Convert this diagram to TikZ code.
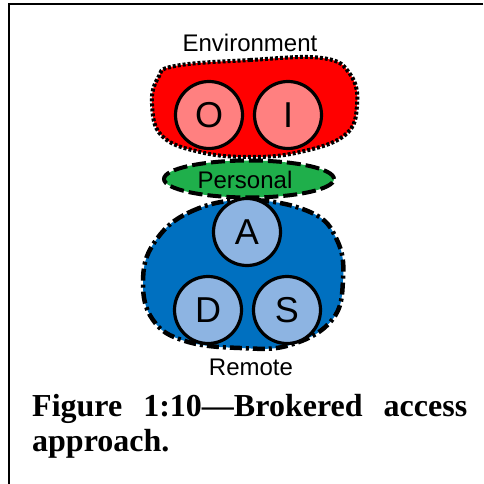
\documentclass[tikz,border=0pt]{standalone}
\usepackage{fontspec}
\setmainfont{Liberation Sans}
\newfontfamily\capfont[Ligatures=TeX]{Liberation Serif}
\definecolor{envred}{HTML}{FF0000}
\definecolor{envlight}{HTML}{FF8080}
\definecolor{persgreen}{HTML}{1FAF4B}
\definecolor{remblue}{HTML}{0070C0}
\definecolor{remlight}{HTML}{8DB4E2}
\tikzset{
  member/.style={circle, draw=black, line width=3.2pt, minimum size=67pt, inner sep=0pt,
    font=\fontsize{36}{40}\selectfont},
  zonelabel/.style={font=\fontsize{24}{28}\selectfont, inner sep=0pt, anchor=base},
  envzone/.style={fill=envred, draw=black, line width=4pt, dash pattern=on 3pt off 2pt},
  perszone/.style={ellipse, fill=persgreen, draw=black, line width=4pt,
    dash pattern=on 14pt off 5pt, minimum width=170pt, minimum height=37pt, inner sep=0pt},
  remzone/.style={fill=remblue, draw=black, line width=4.5pt,
    dash pattern=on 12pt off 4pt on 3pt off 4pt},
  captext/.style={font=\capfont\bfseries\fontsize{32}{35}\selectfont, inner sep=0pt, anchor=base west},
  frame/.style={line width=2pt, draw=black}
}
\usetikzlibrary{shapes.geometric}
\begin{document}
\begin{tikzpicture}[x=1pt, y=-1pt]
\useasboundingbox (0,0) rectangle (483,484);
% page frame: only top and left rules are visible
\coordinate (ftr) at (483,4);
\coordinate (ftl) at (9,4);
\coordinate (fbl) at (9,484);
\draw[frame] (ftr) -- (ftl) -- (fbl);

% environment zone
\node[zonelabel] (envlabel) at (250,51.5) {Environment};
\path[envzone] plot[smooth cycle, tension=0.7] coordinates
  {(175,66) (250,60) (322,58) (350,74) (357,105) (345,135) (300,152) (250,157) (200,152) (162,136) (152,104) (158,78)};
\node[member, fill=envlight] (o) at (209,115) {O};
\node[member, fill=envlight] (i) at (288,115) {I};

% personal zone
\node[perszone] (pers) at (249,179) {};
\node[zonelabel] (perslabel) at (245,188) {Personal};

% remote zone
\path[remzone] plot[smooth cycle, tension=0.7] coordinates
  {(154,243) (190,212) (247,200) (310,212) (337,240) (343,280) (332,320) (290,345) (240,348) (185,341) (153,320) (143,282)};
\node[member, fill=remlight] (a) at (247,232) {A};
\node[member, fill=remlight] (d) at (208,310) {D};
\node[member, fill=remlight] (s) at (287,310) {S};
\node[zonelabel] (remlabel) at (251,375) {Remote};

% caption
\node[captext] (cap1) at (32,416.5) {\makebox[435pt][s]{Figure 1:10---Brokered access}};
\node[captext] (cap2) at (32,451.5) {approach.};
\end{tikzpicture}
\end{document}
